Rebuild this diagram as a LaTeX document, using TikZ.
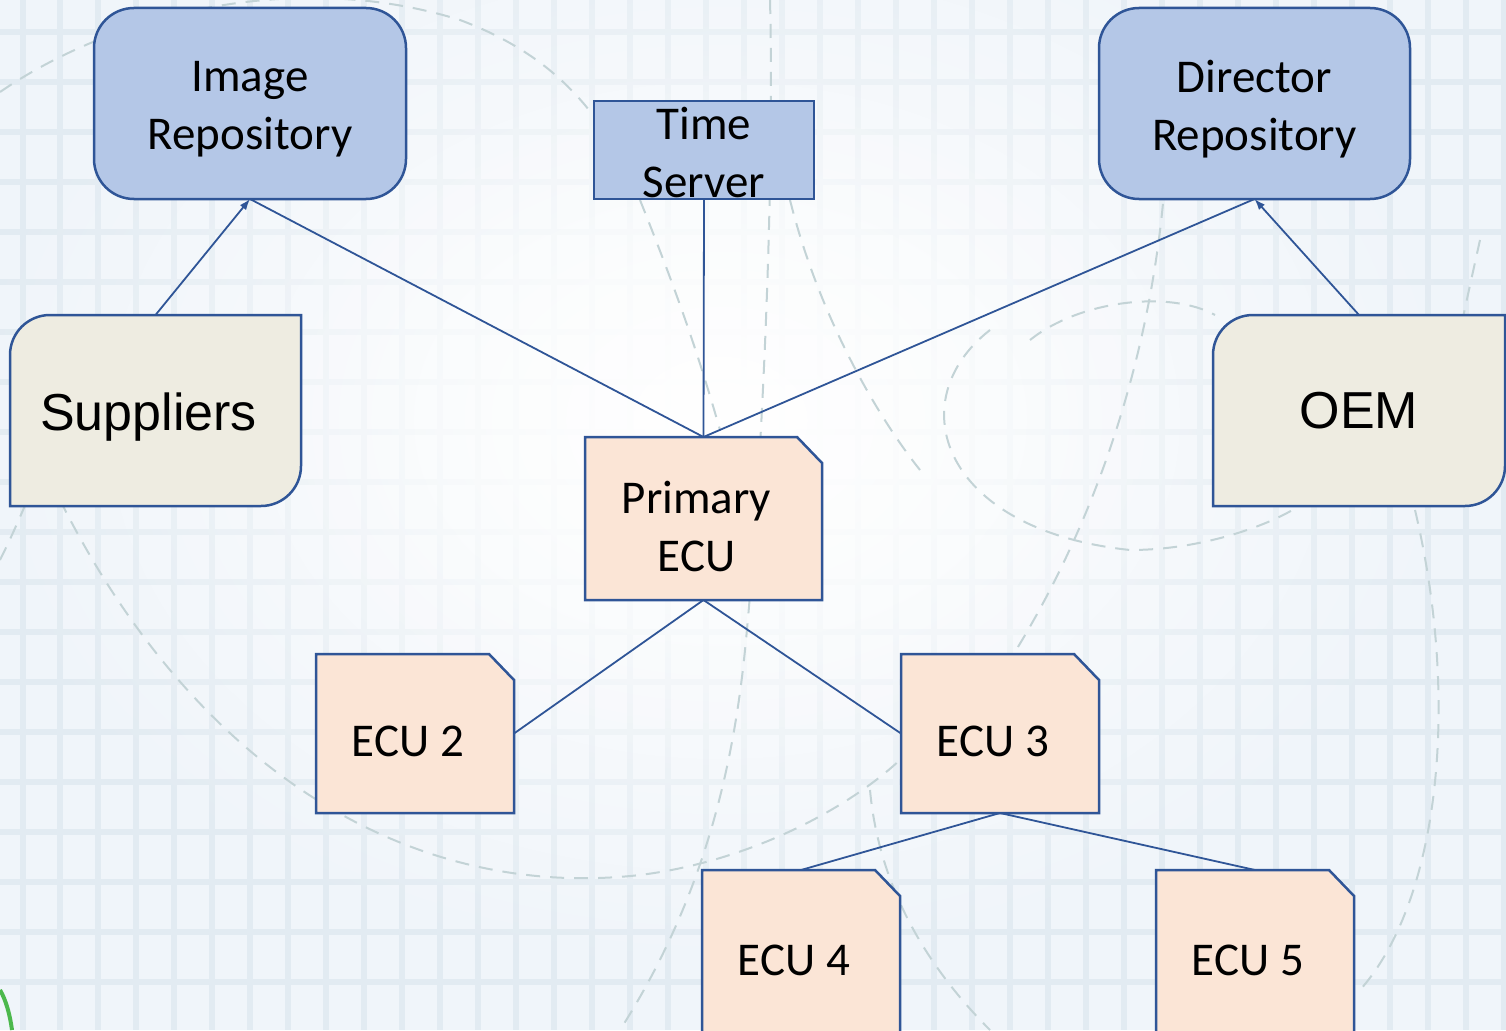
\documentclass[tikz,border=0pt]{standalone}
\usepackage{fontspec}
\newfontfamily\calib{Carlito}
\newfontfamily\arialf{Liberation Sans}
\usetikzlibrary{arrows.meta,calc,fadings}
\definecolor{lineblue}{HTML}{2F5597}
\definecolor{repoblue}{HTML}{B4C7E7}
\definecolor{ecuorange}{HTML}{FBE5D6}
\definecolor{beigebox}{HTML}{EEECE1}
\definecolor{bgbase}{HTML}{F0F5FA}
\definecolor{gridc}{HTML}{E2EBF2}
\definecolor{dashc}{HTML}{C3D3D6}
\tikzfading[name=myfade, inner color=transparent!0, outer color=transparent!100]
\pgfdeclarelayer{back}
\pgfsetlayers{back,main}
\tikzset{
  calibtext/.style={font=\calib\fontsize{47}{58}\selectfont, align=center, text=black},
  arialtext/.style={font=\arialf\fontsize{52}{62}\selectfont, align=center, text=black},
  holder/.style={inner sep=0pt, outer sep=0pt, draw=none},
  boxline/.style={draw=lineblue, line width=2.5pt},
  conn/.style={draw=lineblue, line width=1.8pt},
  arr/.style={conn, -{Latex[length=11pt,width=8pt]}},
  deco/.style={draw=dashc, line width=2pt, dash pattern=on 14pt off 10pt},
}
\begin{document}
\begin{tikzpicture}[x=1pt,y=-1pt]
\useasboundingbox (0,0) rectangle (1506,1030);
\clip (0,0) rectangle (1506,1030);

% ---------- background ----------
\begin{pgfonlayer}{back}
\fill[bgbase] (0,0) rectangle (1506,1030);
\foreach \gx in {23,60,98,136,174,212,250,288,326,364,402,440,478,516,554,592,630,668,706,744,782,820,858,896,934,972,1010,1048,1086,1124,1162,1200,1238,1276,1314,1352,1390,1428,1466,1504}
  \draw[gridc, line width=6pt] (\gx,0) -- (\gx,1030);
\foreach \gy in {32,82,132,182,232,282,332,382,432,482,532,582,632,682,732,782,832,882,932,982}
  \draw[gridc, line width=6pt] (0,\gy) -- (1506,\gy);
\fill[white, path fading=myfade] (720,420) ellipse (760pt and 560pt);
\fill[white, opacity=0.6, path fading=myfade] (720,420) ellipse (520pt and 380pt);
% dashed decorative arcs
\draw[deco] (60,500) .. controls (200,780) and (420,900) .. (640,875) .. controls (760,860) and (860,800) .. (905,755);
\draw[deco] (0,92) .. controls (120,10) and (300,-30) .. (460,20) .. controls (540,50) and (600,100) .. (640,200) .. controls (680,300) and (700,360) .. (720,430);
\draw[deco] (770,0) .. controls (775,200) and (760,500) .. (745,650) .. controls (730,800) and (690,920) .. (620,1030);
\draw[deco] (990,330) .. controls (900,400) and (940,530) .. (1130,550) .. controls (1210,550) and (1280,520) .. (1300,505);
\draw[deco] (1030,340) .. controls (1080,300) and (1170,290) .. (1215,315);
\draw[deco] (1165,180) .. controls (1150,380) and (1080,560) .. (990,690);
\draw[deco] (1480,240) .. controls (1460,330) and (1440,420) .. (1430,505);
\draw[deco] (1415,510) .. controls (1460,700) and (1440,900) .. (1360,990);
\draw[deco] (790,200) .. controls (820,320) and (880,420) .. (920,470);
\draw[deco] (870,790) .. controls (880,900) and (940,980) .. (990,1030);
\draw[deco] (0,560) .. controls (20,520) and (40,470) .. (60,420);
\draw[green!60!black!70, line width=4pt] (0,990) .. controls (6,1000) and (10,1015) .. (12,1030);
\end{pgfonlayer}

% ---------- nodes ----------
\node[holder, minimum width=312pt, minimum height=191pt,
      label={[calibtext, yshift=-6pt]center:{Image\\Repository}}] (img) at (250,103.5) {};
\node[holder, minimum width=220pt, minimum height=98pt,
      label={[calibtext, yshift=-2pt]center:{Time\\Server}}] (ts) at (704,150) {};
\node[holder, minimum width=311pt, minimum height=191pt,
      label={[calibtext, yshift=-6pt]center:{Director\\Repository}}] (dir) at (1254.5,103.5) {};
\node[holder, minimum width=291pt, minimum height=191pt,
      label={[arialtext, xshift=-7pt, yshift=-7pt]center:{Suppliers}}] (sup) at (155.5,410.5) {};
\node[holder, minimum width=292pt, minimum height=191pt,
      label={[arialtext]center:{OEM}}] (oem) at (1359,410.5) {};
\node[holder, minimum width=237pt, minimum height=163pt,
      label={[calibtext, xshift=-7pt, yshift=-8pt]center:{Primary\\ECU}}] (pecu) at (703.5,518.5) {};
\node[holder, minimum width=198pt, minimum height=159pt,
      label={[calibtext, xshift=-7pt, yshift=-8pt]center:{ECU 2}}] (e2) at (415,733.5) {};
\node[holder, minimum width=198pt, minimum height=159pt,
      label={[calibtext, xshift=-7pt, yshift=-8pt]center:{ECU 3}}] (e3) at (1000,733.5) {};
\node[holder, minimum width=198pt, minimum height=180pt,
      label={[calibtext, xshift=-7pt, yshift=0pt]center:{ECU 4}}] (e4) at (801,960) {};
\node[holder, minimum width=198pt, minimum height=180pt,
      label={[calibtext, xshift=-7pt, yshift=0pt]center:{ECU 5}}] (e5) at (1255,960) {};

% ---------- shapes (behind text) ----------
\begin{pgfonlayer}{back}
\path[boxline, fill=repoblue, rounded corners=40pt] (img.north west) rectangle (img.south east);
\path[boxline, fill=repoblue] (ts.north west) rectangle (ts.south east);
\path[boxline, fill=repoblue, rounded corners=40pt] (dir.north west) rectangle (dir.south east);
\foreach \n in {sup,oem}{
  \path[boxline, fill=beigebox] (\n.south west) -- ($(\n.north west)+(0,40)$)
     arc[start angle=180, end angle=90, radius=40pt] -- (\n.north east)
     -- ($(\n.south east)+(0,-40)$) arc[start angle=0, end angle=-90, radius=40pt] -- cycle;
}
\foreach \n in {pecu,e2,e3,e4,e5}{
  \path[boxline, fill=ecuorange] (\n.south west) -- (\n.north west) -- ($(\n.north east)+(-25,0)$)
     -- ($(\n.north east)+(0,26)$) -- (\n.south east) -- cycle;
}
\end{pgfonlayer}

% ---------- connectors ----------
\draw[arr] (sup.north) -- (img.south);
\draw[arr] (oem.north) -- (dir.south);
\draw[conn] (pecu.north) -- (img.south);
\draw[conn] (pecu.north) -- (ts.south);
\draw[conn] (pecu.north) -- (dir.south);
\draw[conn] (pecu.south) -- (e2.east);
\draw[conn] (pecu.south) -- (e3.west);
\draw[conn] (e3.south) -- (e4.north);
\draw[conn] (e3.south) -- (e5.north);
\end{tikzpicture}
\end{document}
